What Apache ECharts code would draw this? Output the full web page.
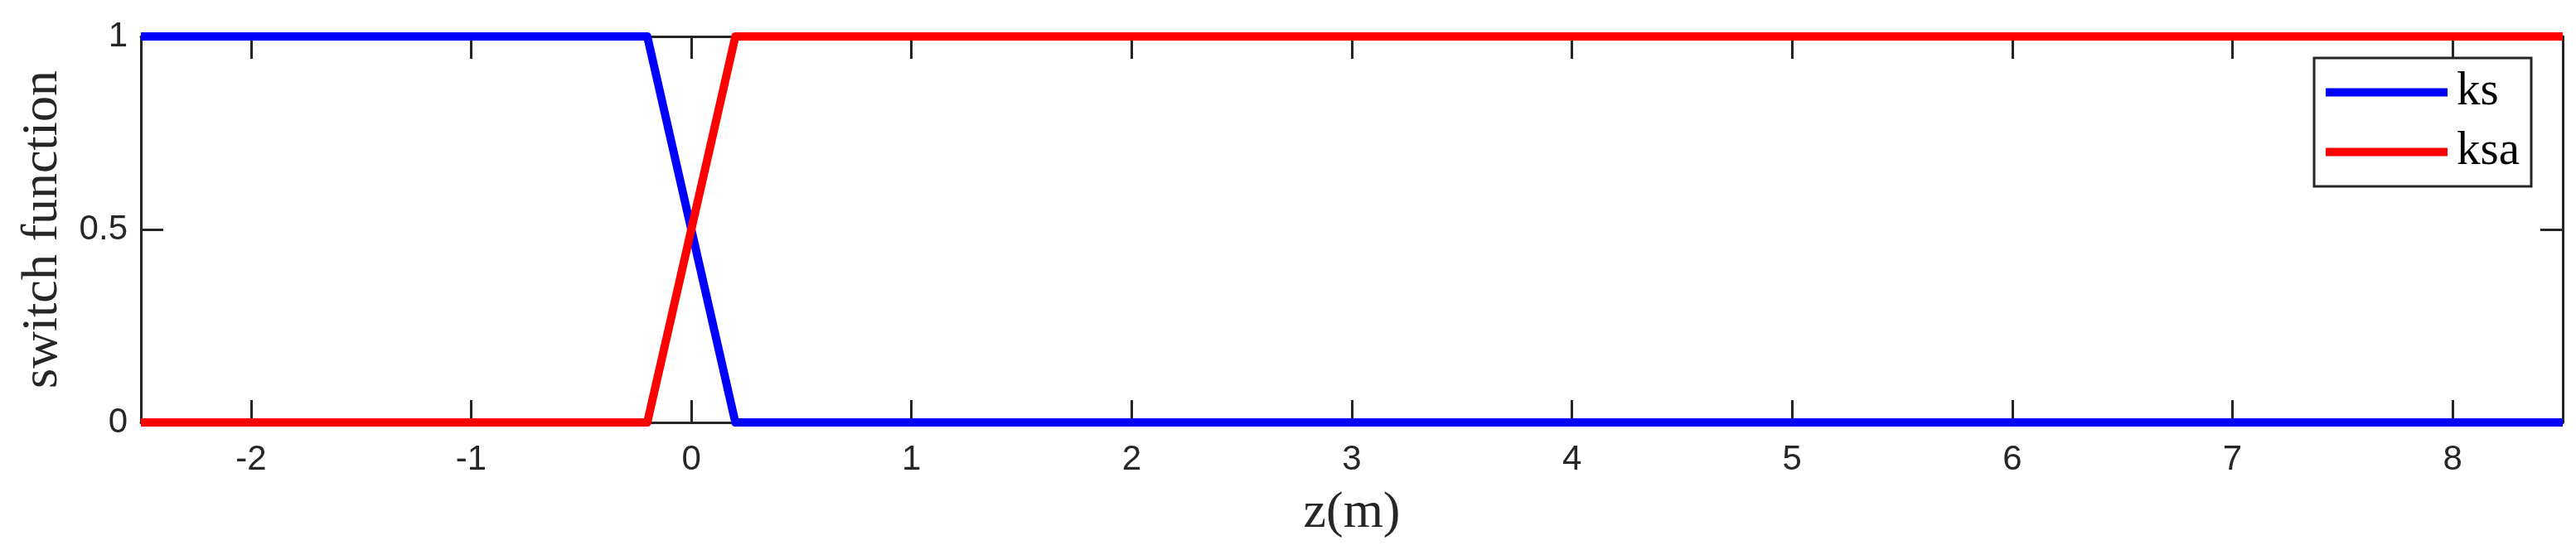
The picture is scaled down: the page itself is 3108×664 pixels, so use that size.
<!DOCTYPE html>
<html>
<head>
<meta charset="utf-8">
<title>switch function</title>
<script src="https://cdn.jsdelivr.net/npm/echarts@6/dist/echarts.min.js"></script>
<style>
  html, body { margin: 0; padding: 0; background: #fff; }
  #chart { width: 3108px; height: 664px; }
</style>
</head>
<body>
<div id="chart"></div>
<script>
// breakpoints along z (m)
const zValues = [-2.5, -0.2, 0.2, 8.5];
const ksValues = [1, 1, 0, 0];
const ksaValues = [0, 0, 1, 1];
const xTicks = [-2, -1, 0, 1, 2, 3, 4, 5, 6, 7, 8];
const yTicks = [0, 0.5, 1];

const toPairs = (ys) => zValues.map((z, i) => [z, ys[i]]);

const axisColor = '#262626';
const tickFont = { fontFamily: 'Liberation Sans', fontSize: 42, color: axisColor };
const serif = 'Liberation Serif';
const tickStyle = { color: axisColor, width: 3 };

const chart = echarts.init(document.getElementById('chart'));

const option = {
  animation: false,
  backgroundColor: '#fff',
  grid: { left: 170, right: 16, top: 44, bottom: 154, containLabel: false },
  legend: {
    orient: 'vertical',
    right: 54,
    top: 70,
    icon: 'rect',
    itemWidth: 147,
    itemHeight: 10,
    itemGap: 15,
    padding: [13, 14, 13, 14],
    borderColor: axisColor,
    borderWidth: 3,
    backgroundColor: '#fff',
    textStyle: { fontFamily: serif, fontSize: 57, lineHeight: 56, color: '#000', padding: [0, 0, 0, 6] },
    data: ['ks', 'ksa']
  },
  xAxis: [
    {
      type: 'value',
      min: -2.5,
      max: 8.5,
      name: 'z(m)',
      nameLocation: 'middle',
      nameGap: 79,
      nameTextStyle: { fontFamily: serif, fontSize: 62, color: axisColor },
      axisLine: { show: true, onZero: false, lineStyle: tickStyle },
      axisTick: { show: true, inside: true, length: 27, customValues: xTicks, lineStyle: tickStyle },
      axisLabel: { ...tickFont, margin: 24, customValues: xTicks },
      splitLine: { show: false }
    },
    {
      type: 'value',
      position: 'top',
      min: -2.5,
      max: 8.5,
      axisLine: { show: true, onZero: false, lineStyle: tickStyle },
      axisTick: { show: true, inside: true, length: 27, customValues: xTicks, lineStyle: tickStyle },
      axisLabel: { show: false },
      splitLine: { show: false }
    }
  ],
  yAxis: [
    {
      type: 'value',
      min: 0,
      max: 1,
      name: 'switch function',
      nameLocation: 'middle',
      nameGap: 87,
      nameTextStyle: { fontFamily: serif, fontSize: 62, color: axisColor },
      axisLine: { show: true, onZero: false, lineStyle: tickStyle },
      axisTick: { show: true, inside: true, length: 27, customValues: yTicks, lineStyle: tickStyle },
      axisLabel: { ...tickFont, margin: 16, customValues: yTicks },
      splitLine: { show: false }
    },
    {
      type: 'value',
      position: 'right',
      min: 0,
      max: 1,
      axisLine: { show: true, onZero: false, lineStyle: tickStyle },
      axisTick: { show: true, inside: true, length: 27, customValues: yTicks, lineStyle: tickStyle },
      axisLabel: { show: false },
      splitLine: { show: false }
    }
  ],
  series: [
    {
      name: 'ks',
      type: 'line',
      data: toPairs(ksValues),
      showSymbol: false,
      clip: false,
      color: '#0000ff',
      lineStyle: { color: '#0000ff', width: 10, join: 'round' }
    },
    {
      name: 'ksa',
      type: 'line',
      data: toPairs(ksaValues),
      showSymbol: false,
      clip: false,
      color: '#ff0000',
      lineStyle: { color: '#ff0000', width: 10, join: 'round' }
    }
  ]
};

chart.setOption(option);
</script>
</body>
</html>
